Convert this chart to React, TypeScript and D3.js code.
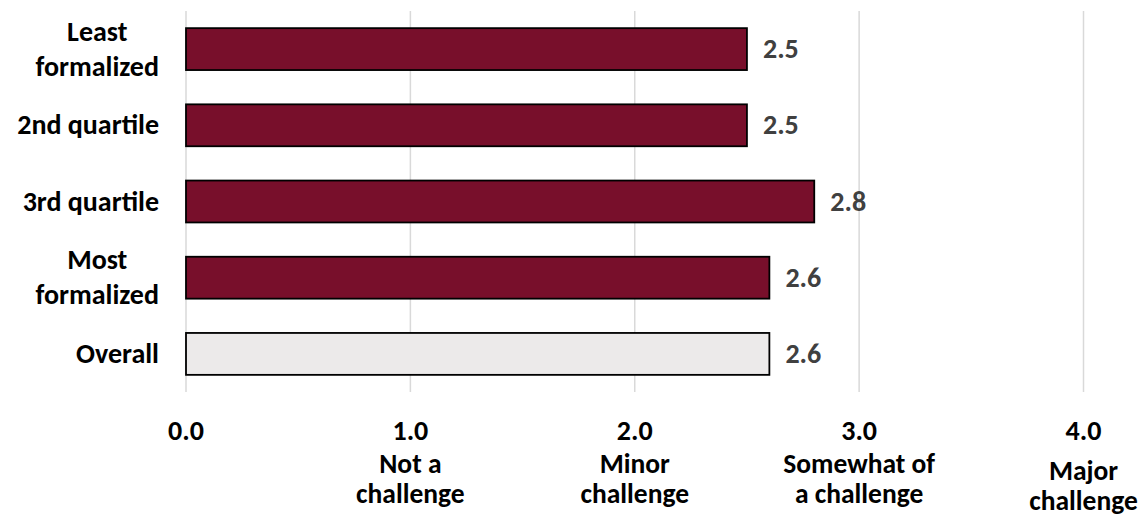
import React, { useEffect, useRef } from "react";
import * as d3 from "d3";

const categories = ["Least formalized", "2nd quartile", "3rd quartile", "Most formalized", "Overall"];
const categoryLines = [["Least", "formalized"], ["2nd quartile"], ["3rd quartile"], ["Most", "formalized"], ["Overall"]];
const values = [2.5, 2.5, 2.8, 2.6, 2.6];
const barColors = ["#780F2B", "#780F2B", "#780F2B", "#780F2B", "#ECEAEA"];
const tickValues = [0, 1, 2, 3, 4];
const tickSubLabels = [[], ["Not a", "challenge"], ["Minor", "challenge"], ["Somewhat of", "a challenge"], ["Major", "challenge"]];

const W = 1142;
const H = 514;
const FONT = "Carlito, Calibri, Lato, sans-serif";
const FS = 28;

export default function App() {
  const ref = useRef<SVGSVGElement>(null);

  useEffect(() => {
    const svg = d3.select(ref.current);
    svg.selectAll("*").remove();

    const x = d3.scaleLinear().domain([0, 4]).range([186, 1083.5]);
    const y = d3.scaleBand<string>().domain(categories).range([11, 392]).paddingInner(0.45).paddingOuter(0.225);

    // gridlines
    svg.append("g").selectAll("line").data(tickValues).join("line")
      .attr("x1", d => x(d)).attr("x2", d => x(d))
      .attr("y1", 11).attr("y2", 392)
      .attr("stroke", "#D9D9D9").attr("stroke-width", 1.5);

    // bars
    svg.append("g").selectAll("rect").data(categories).join("rect")
      .attr("x", x(0))
      .attr("y", d => y(d)!)
      .attr("width", (d, i) => x(values[i]) - x(0))
      .attr("height", y.bandwidth())
      .attr("fill", (d, i) => barColors[i])
      .attr("stroke", "#000").attr("stroke-width", 1.8);

    // value labels
    svg.append("g").selectAll("text").data(categories).join("text")
      .attr("x", (d, i) => x(values[i]) + 16)
      .attr("y", d => y(d)! + y.bandwidth() / 2 + 9)
      .attr("font-family", FONT).attr("font-size", FS).attr("font-weight", "bold")
      .attr("fill", "#404040")
      .text((d, i) => values[i].toFixed(1));

    // category labels
    const rightEdge = 159;
    const lineGap = 35;
    categories.forEach((c, i) => {
      const lines = categoryLines[i];
      const cy = y(c)! + y.bandwidth() / 2;
      const g = svg.append("g");
      const texts = lines.map((l, j) => g.append("text")
        .attr("font-family", FONT).attr("font-size", FS).attr("font-weight", "bold")
        .attr("fill", "#000").attr("text-anchor", "middle")
        .attr("y", cy + 9 + (j - (lines.length - 1) / 2) * lineGap)
        .text(l));
      const maxW = d3.max(texts, t => (t.node() as SVGTextElement).getComputedTextLength()) || 0;
      texts.forEach(t => t.attr("x", rightEdge - maxW / 2));
    });

    // tick labels
    const tg = svg.append("g");
    tickValues.forEach((v, i) => {
      tg.append("text")
        .attr("x", x(v)).attr("y", 440)
        .attr("text-anchor", "middle")
        .attr("font-family", FONT).attr("font-size", FS).attr("font-weight", "bold").attr("fill", "#000")
        .text(v.toFixed(1));
      const sub = tickSubLabels[i];
      const base = i === 4 ? 480 : 473;
      sub.forEach((s, j) => {
        tg.append("text")
          .attr("x", x(v)).attr("y", base + j * 30)
          .attr("text-anchor", "middle")
          .attr("font-family", FONT).attr("font-size", FS - 0.5).attr("font-weight", "bold").attr("fill", "#000")
          .text(s);
      });
    });
  }, []);

  return (
    <svg ref={ref} width={W} height={H} style={{ position: "absolute", left: 0, top: 0, background: "#fff" }} />
  );
}
